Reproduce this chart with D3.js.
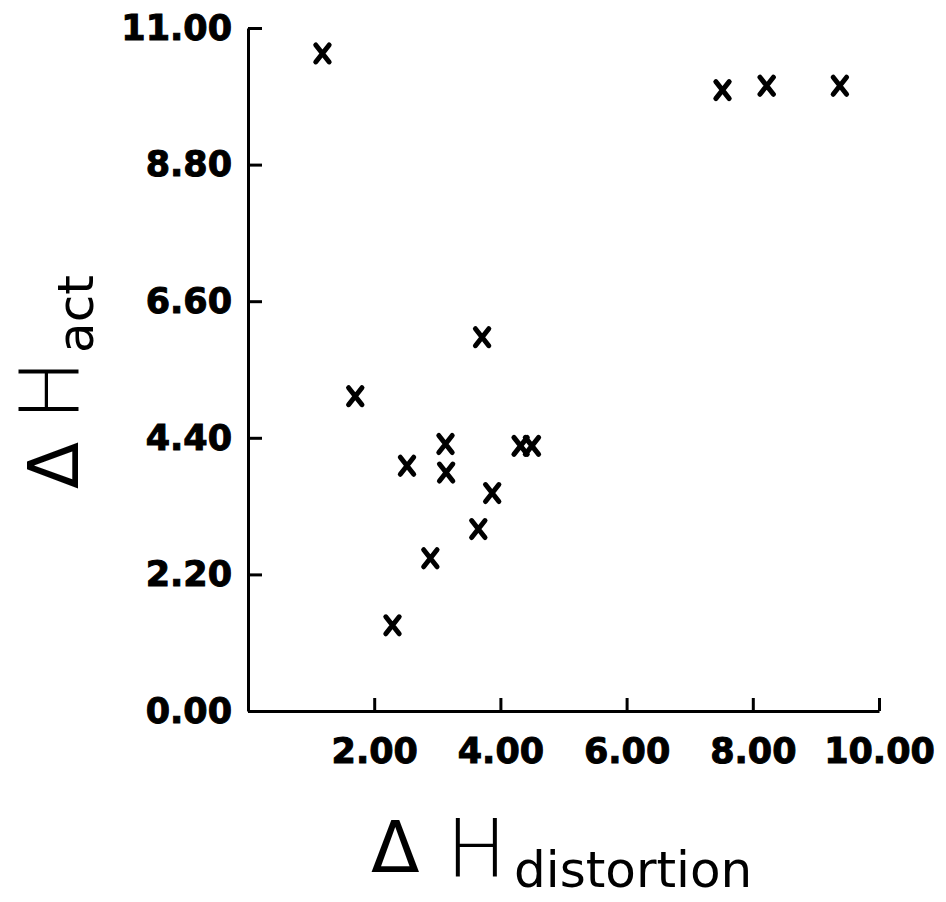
<!DOCTYPE html>
<html>
<head>
<meta charset="utf-8">
<script src="https://cdn.jsdelivr.net/npm/d3@7"></script>
<style>
  body { margin: 0; background: #fff; }
  svg { display: block; }
  .axis path, .axis line { stroke: #000; stroke-width: 3; }
  .axis text { font-family: "DejaVu Sans", sans-serif; font-weight: bold; font-size: 35px; fill: #000; stroke: #000; stroke-width: 1; }
  .lbl { font-family: "DejaVu Sans", sans-serif; fill: #000; }
</style>
</head>
<body>
<svg id="chart" width="946" height="902"></svg>
<script>
// values
var distortion = [1.18, 1.70, 3.71, 3.13, 4.32, 4.50, 2.52, 3.14, 3.87, 3.65, 2.89, 2.29, 7.52, 8.22, 9.38];
var act = [10.59, 5.07, 6.02, 4.30, 4.27, 4.27, 3.95, 3.84, 3.51, 2.93, 2.46, 1.38, 10.00, 10.07, 10.07];
var xTicks = [2, 4, 6, 8, 10];
var yTicks = [0, 2.2, 4.4, 6.6, 8.8, 11];

var svg = d3.select("#chart");

var x = d3.scaleLinear().domain([0, 10]).range([248, 879]);
var y = d3.scaleLinear().domain([0, 11]).range([711, 28]);

// y axis - ticks point inward
svg.append("g")
    .attr("class", "axis")
    .attr("transform", "translate(" + x(0) + ",0)")
    .call(d3.axisLeft(y)
        .tickValues(yTicks)
        .tickFormat(d3.format(".2f"))
        .tickSizeInner(-14)
        .tickSizeOuter(0)
        .tickPadding(16));

// x axis
svg.append("g")
    .attr("class", "axis")
    .attr("transform", "translate(0," + y(0) + ")")
    .call(d3.axisBottom(x)
        .tickValues(xTicks)
        .tickFormat(d3.format(".2f"))
        .tickSizeInner(-13)
        .tickSizeOuter(0)
        .tickPadding(27));

// markers (bold x)
function cross(d) {
    var w = 6.7, h = 8.5;
    return "M" + (-w) + "," + (-h) + "L" + w + "," + h + "M" + (-w) + "," + h + "L" + w + "," + (-h);
}

svg.append("g").selectAll("path")
    .data(distortion.map(function (d, i) { return { x: d, y: act[i] }; }))
    .enter().append("path")
    .attr("transform", function (d) { return "translate(" + x(d.x) + "," + y(d.y) + ")"; })
    .attr("d", cross)
    .attr("fill", "none")
    .attr("stroke", "#000")
    .attr("stroke-width", 5)
    .attr("stroke-linecap", "round");

// x axis title
var xt = svg.append("g").attr("class", "lbl");
xt.append("text").attr("x", 371).attr("y", 872).style("font-size", "71px").text("\u0394");
xt.append("text").attr("x", 446).attr("y", 877).style("font-size", "81px").style("font-weight", 200).text("H");
xt.append("text").attr("x", 514).attr("y", 887).style("font-size", "50px").text("distortion");

// y axis title (rotated)
var yt = svg.append("g").attr("class", "lbl").attr("transform", "rotate(-90)");
yt.append("text").attr("x", -489).attr("y", 78).style("font-size", "69px").text("\u0394");
yt.append("text").attr("x", -421).attr("y", 78).style("font-size", "82px").style("font-weight", 200).text("H");
yt.append("text").attr("x", -353).attr("y", 93).style("font-size", "50px").text("act");
</script>
</body>
</html>
